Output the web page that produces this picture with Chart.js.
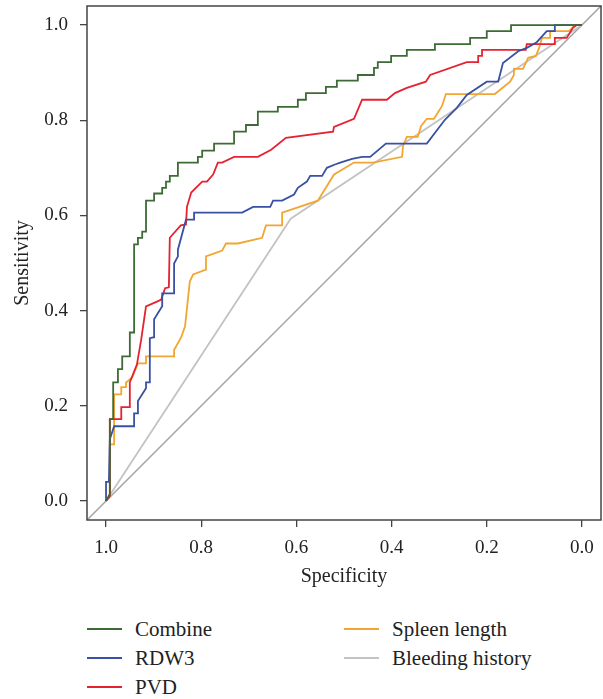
<!DOCTYPE html>
<html>
<head>
<meta charset="utf-8">
<script src="https://cdn.jsdelivr.net/npm/chart.js@4.4.1/dist/chart.umd.min.js"></script>
<style>
  body { margin: 0; background: #fff; }
  #wrap { position: relative; width: 603px; height: 699px; }
  #roc { position: absolute; left: 0; top: 0; }
  .key { position: absolute; font-family: "Liberation Serif", serif; font-size: 21px; color: #222; line-height: 24px; }
  .key span { position: absolute; top: 11px; width: 35px; height: 0; border-top: 2px solid; }
  .key b { font-weight: normal; position: absolute; white-space: nowrap; }
</style>
</head>
<body>
<div id="wrap">
  <canvas id="roc" width="603" height="600"></canvas>
  <div id="legend"></div>
</div>
<script>
// ROC curves: specificity (x, reversed) vs sensitivity (y)
var xTicks = [1.0, 0.8, 0.6, 0.4, 0.2, 0.0]
var yTicks = [0.0, 0.2, 0.4, 0.6, 0.8, 1.0]

var combineSpec = [1.000, 0.992, 0.992, 0.985, 0.985, 0.975, 0.975, 0.966, 0.966, 0.950, 0.950, 0.941, 0.941, 0.933, 0.933, 0.924, 0.924, 0.916, 0.916, 0.899, 0.899, 0.882, 0.882, 0.874, 0.874, 0.866, 0.866, 0.849, 0.849, 0.807, 0.807, 0.798, 0.798, 0.773, 0.773, 0.731, 0.731, 0.706, 0.706, 0.681, 0.681, 0.639, 0.639, 0.597, 0.597, 0.580, 0.580, 0.538, 0.538, 0.515, 0.515, 0.471, 0.471, 0.437, 0.437, 0.429, 0.429, 0.401, 0.401, 0.368, 0.368, 0.309, 0.309, 0.235, 0.235, 0.200, 0.200, 0.149, 0.149, 0.000]
var combineSens = [0.000, 0.015, 0.172, 0.172, 0.249, 0.249, 0.277, 0.277, 0.304, 0.304, 0.354, 0.354, 0.539, 0.539, 0.553, 0.553, 0.566, 0.566, 0.631, 0.631, 0.646, 0.646, 0.658, 0.658, 0.671, 0.671, 0.683, 0.683, 0.711, 0.711, 0.723, 0.723, 0.736, 0.736, 0.751, 0.751, 0.776, 0.776, 0.790, 0.790, 0.818, 0.818, 0.828, 0.828, 0.843, 0.843, 0.857, 0.857, 0.870, 0.870, 0.883, 0.883, 0.895, 0.895, 0.910, 0.910, 0.922, 0.922, 0.935, 0.935, 0.948, 0.948, 0.960, 0.960, 0.973, 0.973, 0.987, 0.987, 1.000, 1.000]

var rdwSpec = [1.000, 1.000, 0.994, 0.992, 0.983, 0.941, 0.941, 0.933, 0.933, 0.916, 0.916, 0.908, 0.908, 0.899, 0.899, 0.882, 0.882, 0.857, 0.857, 0.849, 0.849, 0.832, 0.815, 0.815, 0.714, 0.691, 0.655, 0.649, 0.630, 0.605, 0.597, 0.578, 0.571, 0.546, 0.536, 0.519, 0.508, 0.483, 0.462, 0.445, 0.412, 0.326, 0.288, 0.263, 0.242, 0.200, 0.176, 0.166, 0.134, 0.116, 0.095, 0.074, 0.057, 0.057, 0.000]
var rdwSens = [0.000, 0.040, 0.040, 0.130, 0.157, 0.157, 0.184, 0.184, 0.210, 0.237, 0.249, 0.249, 0.342, 0.344, 0.382, 0.409, 0.436, 0.436, 0.499, 0.514, 0.528, 0.591, 0.591, 0.606, 0.606, 0.618, 0.618, 0.631, 0.631, 0.644, 0.658, 0.671, 0.683, 0.683, 0.700, 0.707, 0.711, 0.719, 0.723, 0.723, 0.751, 0.751, 0.801, 0.826, 0.853, 0.881, 0.881, 0.920, 0.945, 0.952, 0.964, 0.987, 0.987, 1.000, 1.000]

var pvdSpec = [1.000, 0.992, 0.992, 0.968, 0.968, 0.950, 0.950, 0.935, 0.926, 0.916, 0.893, 0.884, 0.876, 0.868, 0.866, 0.843, 0.832, 0.830, 0.821, 0.798, 0.788, 0.775, 0.765, 0.756, 0.731, 0.681, 0.653, 0.622, 0.523, 0.521, 0.479, 0.462, 0.410, 0.393, 0.368, 0.328, 0.319, 0.242, 0.218, 0.218, 0.210, 0.210, 0.118, 0.116, 0.057, 0.057, 0.032, 0.019, 0.011, 0.000]
var pvdSens = [0.000, 0.010, 0.172, 0.172, 0.197, 0.197, 0.249, 0.287, 0.340, 0.409, 0.419, 0.423, 0.447, 0.449, 0.553, 0.579, 0.581, 0.618, 0.648, 0.671, 0.671, 0.686, 0.711, 0.711, 0.723, 0.723, 0.738, 0.763, 0.776, 0.786, 0.803, 0.843, 0.843, 0.857, 0.868, 0.881, 0.895, 0.922, 0.922, 0.935, 0.935, 0.948, 0.948, 0.960, 0.960, 0.973, 0.973, 0.994, 1.000, 1.000]

var spleenSpec = [1.000, 0.992, 0.992, 0.983, 0.983, 0.968, 0.968, 0.958, 0.958, 0.954, 0.945, 0.933, 0.916, 0.916, 0.857, 0.857, 0.842, 0.834, 0.824, 0.817, 0.790, 0.790, 0.756, 0.748, 0.723, 0.672, 0.664, 0.630, 0.630, 0.555, 0.521, 0.479, 0.439, 0.378, 0.376, 0.368, 0.345, 0.338, 0.326, 0.311, 0.294, 0.286, 0.183, 0.151, 0.143, 0.143, 0.124, 0.113, 0.097, 0.090, 0.084, 0.067, 0.067, 0.027, 0.015, 0.000]
var spleenSens = [0.000, 0.010, 0.119, 0.119, 0.224, 0.224, 0.239, 0.239, 0.249, 0.252, 0.260, 0.289, 0.289, 0.304, 0.304, 0.317, 0.344, 0.367, 0.461, 0.476, 0.486, 0.514, 0.526, 0.541, 0.541, 0.553, 0.579, 0.579, 0.606, 0.631, 0.686, 0.711, 0.711, 0.723, 0.746, 0.765, 0.765, 0.788, 0.803, 0.803, 0.830, 0.855, 0.855, 0.881, 0.895, 0.908, 0.908, 0.931, 0.935, 0.952, 0.973, 0.973, 0.987, 0.987, 1.000, 1.000]

var bleedSpec = [1.000, 0.612, 0.000]
var bleedSens = [0.000, 0.593, 1.000]

var refSpec = [1.04, -0.04]
var refSens = [-0.04, 1.04]

var names = ['Combine', 'RDW3', 'PVD', 'Spleen length', 'Bleeding history']
var colors = ['#3d6b35', '#3851a3', '#e52330', '#f2a631', '#c3c3c3']

function pts(xs, ys) {
  return xs.map(function (x, i) { return { x: x, y: ys[i] } })
}

var series = [
  pts(combineSpec, combineSens),
  pts(rdwSpec, rdwSens),
  pts(pvdSpec, pvdSens),
  pts(spleenSpec, spleenSens),
  pts(bleedSpec, bleedSens)
]

var datasets = series.map(function (d, i) {
  return { label: names[i], data: d, borderColor: colors[i], borderWidth: 1.8, showLine: true, pointRadius: 0, tension: 0, fill: false }
})
datasets.push({ label: 'ref', data: pts(refSpec, refSens), borderColor: '#a3a3a3', borderWidth: 1.5, showLine: true, pointRadius: 0, fill: false })

var frame = {
  id: 'frame',
  afterDatasetsDraw: function (chart) {
    var a = chart.chartArea, ctx = chart.ctx
    ctx.save()
    ctx.strokeStyle = '#444'
    ctx.lineWidth = 1.5
    ctx.strokeRect(a.left, a.top, a.right - a.left, a.bottom - a.top)
    ctx.restore()
  }
}

// no extra room for tick labels that stick out at the ends
function noOverflow(s) {
  s.paddingTop = 0
  s.paddingBottom = 0
  s.paddingLeft = 0
  s.paddingRight = 0
}

var font = { family: '"Liberation Serif", serif', size: 19 }
var titleFont = { family: '"Liberation Serif", serif', size: 20 }

new Chart(document.getElementById('roc'), {
  type: 'scatter',
  data: { datasets: datasets },
  options: {
    responsive: false,
    animation: false,
    devicePixelRatio: 1,
    layout: { padding: { top: 6, right: 2, left: 0, bottom: 0 } },
    plugins: { legend: { display: false }, tooltip: { enabled: false } },
    scales: {
      x: {
        type: 'linear', reverse: true, min: -0.04, max: 1.04,
        afterBuildTicks: function (s) { s.ticks = xTicks.map(function (v) { return { value: v } }) },
        afterFit: function (s) { s.height = 80; noOverflow(s) },
        ticks: { font: font, color: '#222', padding: 10, maxRotation: 0, autoSkip: false, callback: function (v) { return v.toFixed(1) } },
        grid: { drawOnChartArea: false, drawTicks: true, tickLength: 7, color: '#444', lineWidth: 1.3 },
        border: { display: false },
        title: { display: true, text: 'Specificity', font: titleFont, color: '#222', padding: { top: 0, bottom: 11 } }
      },
      y: {
        type: 'linear', min: -0.04, max: 1.04,
        afterBuildTicks: function (s) { s.ticks = yTicks.map(function (v) { return { value: v } }) },
        afterFit: function (s) { s.width = 87; noOverflow(s) },
        ticks: { font: font, color: '#222', padding: 12, autoSkip: false, callback: function (v) { return v.toFixed(1) } },
        grid: { drawOnChartArea: false, drawTicks: true, tickLength: 7, color: '#444', lineWidth: 1.3 },
        border: { display: false },
        title: { display: true, text: 'Sensitivity', font: titleFont, color: '#222', padding: { top: 11, bottom: 0 } }
      }
    }
  },
  plugins: [frame]
})

// legend in two columns, like the figure
var legendPos = [[87, 617], [87, 646], [87, 675], [344, 617], [344, 646]]
var box = document.getElementById('legend')
names.forEach(function (n, i) {
  var el = document.createElement('div')
  el.className = 'key'
  el.style.left = legendPos[i][0] + 'px'
  el.style.top = legendPos[i][1] + 'px'
  el.innerHTML = '<span style="border-color:' + colors[i] + '"></span><b style="left:48px">' + n + '</b>'
  box.appendChild(el)
})
</script>
</body>
</html>
